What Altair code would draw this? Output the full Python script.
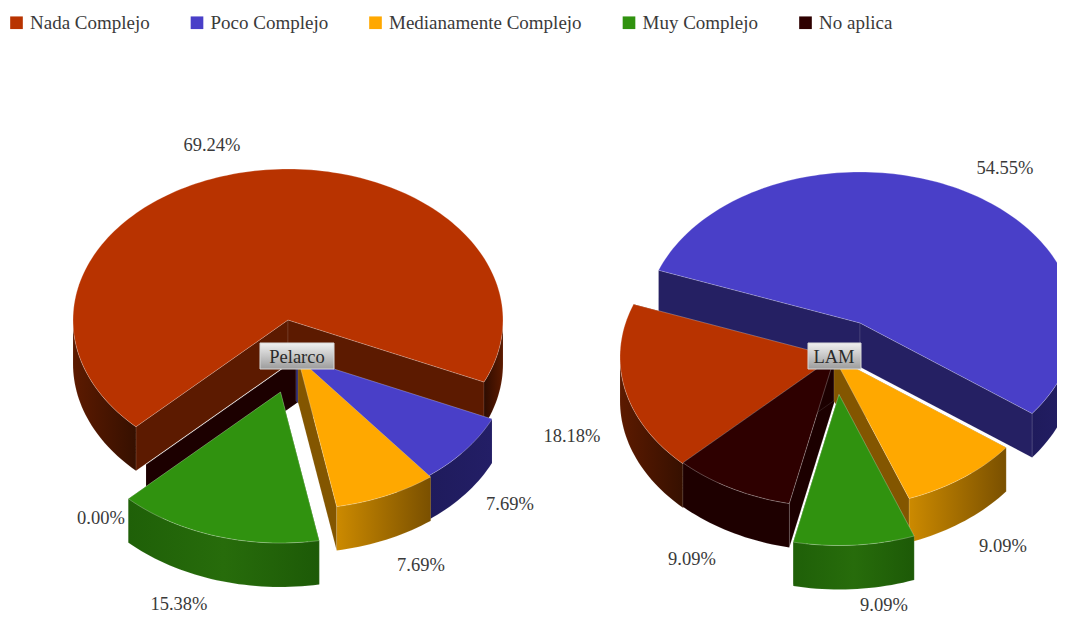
import math
import altair as alt
import pandas as pd

CATEGORIES = ["Nada Complejo", "Poco Complejo", "Medianamente Complejo", "Muy Complejo", "No aplica"]
COLORS = ["#B83300", "#493FC8", "#FFA800", "#30920F", "#2E0000"]
INNER = ["#5C1A00", "#252063", "#835600", "#1F6008", "#1C0000"]
PELARCO = [69.24, 7.69, 7.69, 15.38, 0.00]
LAM = [18.18, 54.55, 9.09, 9.09, 9.09]
PCT_TEXT = ["69.24%", "7.69%", "7.69%", "15.38%", "0.00%", "18.18%", "54.55%", "9.09%", "9.09%", "9.09%"]
PCT_X = [212, 510, 421, 179, 101, 572, 1005, 1003, 884, 692]
PCT_Y = [145, 504, 565, 604, 518, 436, 168, 546, 605, 559]
NAMES = ["Pelarco", "LAM"]
NAME_X = [297, 834]
NAME_Y = [357, 357]
NAME_BOX = [(260, 343, 334, 369), (808, 343, 861, 369)]

RX, RY, DEPTH, START = 215, 151, 44, 135
APEX_L = [(288, 320), (296, 357), (298, 358), (280.5, 392), (298, 358)]
APEX_R = [(835, 357), (860, 323), (834, 357), (839, 394.5), (835, 356)]


def grad(*cols):
    n = len(cols) - 1
    return alt.LinearGradient(
        gradient="linear", x1=0, x2=1, y1=0, y2=0,
        stops=[alt.GradientStop(offset=i / n, color=c) for i, c in enumerate(cols)],
    )


def pt(ax, ay, t, dy=0):
    r = math.radians(t)
    return [ax + RX * math.cos(r), ay + RY * math.sin(r) + dy]


def feat(ring, cat):
    ring = ring + [ring[0]]
    return {"type": "Feature", "properties": {"cat": cat},
            "geometry": {"type": "Polygon", "coordinates": [ring]}}


def arc(ax, ay, t1, t2, dy=0):
    n = max(2, int(abs(t2 - t1) / 1.5))
    return [pt(ax, ay, t1 + (t2 - t1) * i / n, dy) for i in range(n + 1)]


def geo(ring, cat, **mark):
    return alt.Chart(alt.Data(values=[feat(ring, cat)])).mark_geoshape(**mark).project(
        type="identity", scale=1, translate=[-8, -8])


COLOR = alt.Color(
    "properties.cat:N",
    scale=alt.Scale(domain=CATEGORIES, range=COLORS),
    legend=alt.Legend(
        title=None, orient="none", legendX=-1, legendY=5, columns=5, columnPadding=37.5,
        symbolType="square", symbolSize=160, symbolStrokeWidth=0, labelFont="Liberation Serif",
        labelFontSize=19, labelColor="#3a3a3a", labelLimit=300, labelOffset=4, padding=0,
    ),
)

OUTER = {
    0: lambda t: grad("#2E0C00", "#5C1A00") if t < 90 else grad("#5C1A00", "#361000"),
    1: lambda t: grad("#1F1B5C", "#231E66"),
    2: lambda t: grad("#CC8A00", "#7A5000"),
    3: lambda t: grad("#1F6008", "#276C0B", "#1D5A07"),
    4: lambda t: grad("#1E0000", "#1E0000"),
}
EDGE = dict(stroke="white", strokeOpacity=0.3, strokeWidth=0.8)


def front(t1, t2):
    out = []
    for base in (0, 360, 720):
        a, b = max(t1, base), min(t2, base + 180)
        if b > a:
            out.append((a, b))
    return out


def slice_layers(values, apex, order):
    angles = []
    cur = START
    for v in values:
        angles.append((cur, cur + v * 3.6))
        cur += v * 3.6
    layers = []
    for i in order:
        ax, ay = apex[i]
        t1, t2 = angles[i]
        for t in (t1, t2):
            ring = [[ax, ay], pt(ax, ay, t), pt(ax, ay, t, DEPTH), [ax, ay + DEPTH]]
            layers.append(geo(ring, CATEGORIES[i], fill=INNER[i], stroke="white",
                              strokeOpacity=0.18, strokeWidth=0.6))
        if values[i] == 0:
            continue
        for a, b in front(t1, t2):
            ring = arc(ax, ay, a, b) + arc(ax, ay, b, a, DEPTH)
            layers.append(geo(ring, CATEGORIES[i], fill=OUTER[i]((a + b) / 2 % 360),
                              stroke="white", strokeOpacity=0.15, strokeWidth=0.6))
        ring = [[ax, ay]] + arc(ax, ay, t1, t2)
        layers.append(geo(ring, CATEGORIES[i], **EDGE).encode(color=COLOR))
    return layers


layers = slice_layers(PELARCO, APEX_L, [0, 4, 1, 2, 3]) + slice_layers(LAM, APEX_R, [1, 0, 4, 2, 3])

BOX_GRAD = alt.LinearGradient(
    gradient="linear", x1=0, x2=0, y1=0, y2=1,
    stops=[alt.GradientStop(offset=0, color="#F0F0F0"), alt.GradientStop(offset=1, color="#9C9C9C")],
)
for (x0, y0, x1, y1) in NAME_BOX:
    layers.append(geo([[x0, y0], [x1, y0], [x1, y1], [x0, y1]], "box", fill=BOX_GRAD,
                      stroke="#D8D8D8", strokeWidth=1))

pct = pd.DataFrame({"t": PCT_TEXT, "lon": PCT_X, "lat": PCT_Y})
names = pd.DataFrame({"t": NAMES, "lon": NAME_X, "lat": NAME_Y})
pct_layer = alt.Chart(pct).mark_text(font="Liberation Serif", fontSize=18.5, color="#3a3a3a").encode(
    longitude="lon:Q", latitude="lat:Q", text="t:N").project(type="identity", scale=1, translate=[-8, -8])
name_layer = alt.Chart(names).mark_text(font="Liberation Serif", fontSize=18.5, color="#2a2a2a").encode(
    longitude="lon:Q", latitude="lat:Q", text="t:N").project(type="identity", scale=1, translate=[-8, -8])

chart = alt.layer(*layers, pct_layer, name_layer).properties(
    width=1049, height=607, padding=0, autosize="none",
).configure_view(stroke=None)

chart.save("out.html", embed_options={"renderer": "svg", "actions": False})
